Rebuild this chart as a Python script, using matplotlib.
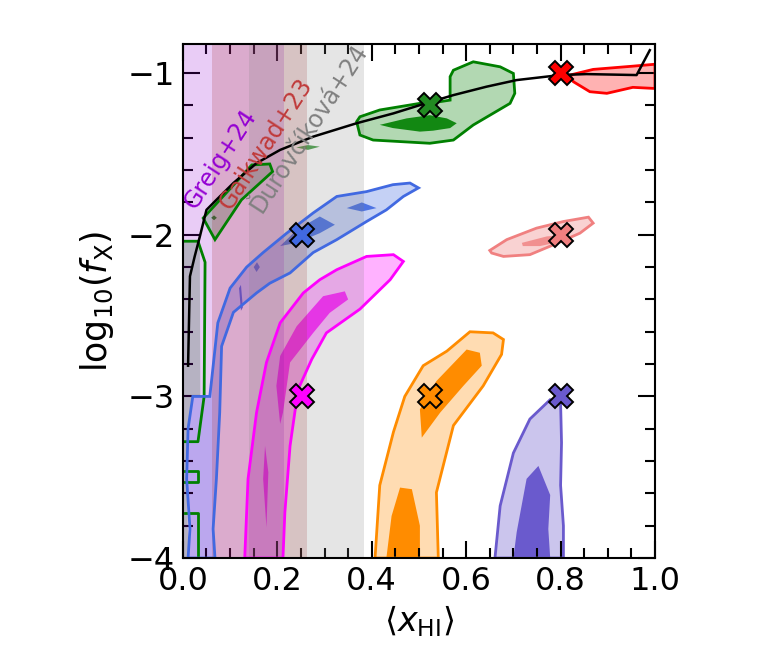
import matplotlib
matplotlib.use('Agg')
import matplotlib.pyplot as plt
from matplotlib.ticker import MultipleLocator

# ---- marker positions (<x_HI>, log10 fX) ----
mark_x = [0.523, 0.80, 0.252, 0.80, 0.252, 0.523, 0.80]
mark_y = [-1.2, -1.0, -2.0, -2.0, -3.0, -3.0, -3.0]
mark_c = ['forestgreen', 'red', 'royalblue', 'lightcoral', 'magenta', 'darkorange', 'slateblue']

# ---- black curve ----
curve_x = [0.011, 0.015, 0.025, 0.036, 0.05, 0.071, 0.107, 0.156, 0.206, 0.276, 0.368,
           0.446, 0.502, 0.573, 0.643, 0.707, 0.799, 0.855, 0.961, 0.989]
curve_y = [-2.81, -2.257, -2.134, -2.01, -1.846, -1.784, -1.68, -1.557, -1.475, -1.393, -1.31,
           -1.249, -1.198, -1.136, -1.084, -1.043, -1.012, -1.006, -1.012, -0.858]

# ---- observational bands ----
band_names = ['Greig+24', 'Gaikwad+23', 'Ďurovčíková+24']
band_lo = [0.0, 0.062, 0.14]
band_hi = [0.214, 0.263, 0.384]
band_c = ['darkviolet', 'brown', 'gray']
band_txt_c = ['darkviolet', '#c03a3a', 'gray']
band_txt_x = [0.08, 0.175, 0.268]
band_txt_y = [-1.53, -1.434, -1.34]

# ---- contours (outer 2-sigma / inner 1-sigma) ----
green_outer_x = [0.368, 0.375, 0.403, 0.523, 0.573, 0.615, 0.693, 0.703, 0.70, 0.672, 0.615,
                 0.573, 0.566, 0.566, 0.523, 0.502, 0.417, 0.375]
green_outer_y = [-1.30, -1.383, -1.414, -1.434, -1.414, -1.321, -1.187, -1.125, -1.002, -0.961,
                 -0.93, -0.982, -1.022, -1.167, -1.186, -1.187, -1.228, -1.27]
green_inner_x = [0.417, 0.474, 0.523, 0.559, 0.58, 0.566, 0.53, 0.502, 0.445]
green_inner_y = [-1.32, -1.28, -1.26, -1.28, -1.31, -1.34, -1.356, -1.362, -1.34]
green_patch_x = [0.043, 0.146, 0.184, 0.190, 0.124, 0.068]
green_patch_y = [-1.897, -1.568, -1.562, -1.609, -1.784, -2.03]
green_sliver_x = [0.24, 0.265, 0.29, 0.265]
green_sliver_y = [-1.46, -1.445, -1.455, -1.475]
green_dot_x = [0.066, 0.072, 0.066, 0.060]
green_dot_y = [-1.88, -1.895, -1.91, -1.895]
green_left_x = [0.0, 0.036, 0.036, 0.037, 0.02, 0.012, 0.008, 0.012, 0.0]
green_left_y = [-2.04, -2.04, -2.2, -3.0, -3.0, -3.2, -3.5, -4.0, -4.0]
green_edge_x = [0.0, 0.032, 0.047, 0.045, 0.032, 0.004]
green_edge_y = [-2.04, -2.04, -2.17, -3.0, -3.28, -3.28]
green_box1_x = [0.004, 0.032, 0.032, 0.004]
green_box1_y = [-3.46, -3.46, -3.53, -3.53]
green_box2_x = [0.004, 0.032, 0.032]
green_box2_y = [-3.72, -3.72, -4.0]

red_outer_x = [0.82, 0.869, 0.953, 1.0, 1.0, 0.953, 0.898, 0.862, 0.827]
red_outer_y = [-1.012, -0.977, -0.957, -0.945, -1.095, -1.088, -1.125, -1.115, -1.053]

pink_outer_x = [0.650, 0.686, 0.749, 0.806, 0.859, 0.869, 0.841, 0.785, 0.735, 0.679, 0.654]
pink_outer_y = [-2.097, -2.03, -1.959, -1.918, -1.891, -1.928, -1.99, -2.062, -2.123, -2.134, -2.113]
pink_inner_x = [0.718, 0.771, 0.813, 0.805, 0.756, 0.72]
pink_inner_y = [-2.05, -2.01, -2.0, -2.04, -2.07, -2.07]

blue_outer_x = [0.011, 0.015, 0.008, 0.011, 0.021, 0.057, 0.061, 0.074, 0.10, 0.135, 0.17,
                0.22, 0.276, 0.326, 0.389, 0.445, 0.481, 0.499, 0.467, 0.431, 0.389, 0.326,
                0.276, 0.227, 0.184, 0.156, 0.107, 0.082, 0.078, 0.071, 0.064, 0.068]
blue_outer_y = [-4.0, -3.82, -3.51, -3.2, -3.0, -3.0, -2.895, -2.545, -2.33, -2.2, -2.11,
                -1.99, -1.865, -1.763, -1.733, -1.69, -1.68, -1.71, -1.763, -1.846, -1.918, -2.03,
                -2.11, -2.236, -2.3, -2.36, -2.48, -2.69, -3.1, -3.51, -3.82, -4.0]
blue_inner1_x = [0.206, 0.241, 0.29, 0.322, 0.29, 0.241]
blue_inner1_y = [-2.07, -1.97, -1.887, -1.938, -1.99, -2.05]
blue_inner2_x = [0.347, 0.379, 0.41, 0.379]
blue_inner2_y = [-1.835, -1.80, -1.835, -1.856]
blue_inner3_x = [0.150, 0.157, 0.163, 0.156]
blue_inner3_y = [-2.2, -2.17, -2.2, -2.23]
blue_inner4_x = [0.119, 0.123, 0.127, 0.123]
blue_inner4_y = [-2.33, -2.31, -2.45, -2.47]

mag_outer_x = [0.131, 0.138, 0.156, 0.177, 0.206, 0.255, 0.29, 0.326, 0.389, 0.446, 0.467,
               0.439, 0.375, 0.304, 0.273, 0.244, 0.227, 0.216, 0.212]
mag_outer_y = [-4.0, -3.51, -3.1, -2.79, -2.545, -2.36, -2.278, -2.216, -2.134, -2.123, -2.165,
               -2.278, -2.46, -2.607, -2.77, -2.957, -3.306, -3.718, -4.0]
mag_inner1_x = [0.198, 0.206, 0.241, 0.297, 0.343, 0.35, 0.311, 0.276, 0.227, 0.212, 0.206]
mag_inner1_y = [-2.935, -2.75, -2.566, -2.38, -2.35, -2.40, -2.483, -2.607, -2.79, -3.1, -3.17]
mag_inner2_x = [0.174, 0.181, 0.177, 0.170]
mag_inner2_y = [-3.306, -3.47, -3.81, -3.51]

orange_outer_x = [0.407, 0.417, 0.446, 0.47, 0.509, 0.559, 0.608, 0.657, 0.679, 0.675, 0.636,
                  0.573, 0.537, 0.541]
orange_outer_y = [-4.0, -3.55, -3.22, -3.0, -2.81, -2.72, -2.60, -2.607, -2.648, -2.74, -2.935,
                  -3.18, -3.594, -4.0]
orange_inner1_x = [0.506, 0.502, 0.537, 0.601, 0.629, 0.633, 0.594, 0.545]
orange_inner1_y = [-3.255, -3.08, -2.905, -2.71, -2.73, -2.81, -2.935, -3.10]
orange_inner2_x = [0.431, 0.442, 0.46, 0.485, 0.502, 0.502]
orange_inner2_y = [-4.0, -3.74, -3.564, -3.574, -3.80, -4.0]

purple_outer_x = [0.661, 0.672, 0.70, 0.735, 0.778, 0.80, 0.802, 0.80, 0.806, 0.806]
purple_outer_y = [-4.0, -3.677, -3.35, -3.14, -3.02, -3.04, -3.286, -3.55, -3.80, -4.0]
purple_inner_x = [0.70, 0.707, 0.728, 0.753, 0.778, 0.774, 0.778]
purple_inner_y = [-4.0, -3.84, -3.51, -3.43, -3.61, -3.82, -4.0]

plt.rcParams['font.family'] = ['DejaVu Sans']
plt.rcParams['mathtext.fontset'] = 'dejavusans'

fig = plt.figure(figsize=(7.62, 6.62), dpi=100)
ax = fig.add_axes([0.240, 0.157, 0.6196, 0.7765])


def contour(xo, yo, col, a_out=0.3, inners=(), a_in=0.9):
    ax.fill(xo, yo, facecolor=col, alpha=a_out, edgecolor='none', zorder=1)
    ax.fill(xo, yo, facecolor='none', edgecolor=col, lw=2, zorder=2.5)
    for xi, yi in inners:
        ax.fill(xi, yi, facecolor=col, alpha=a_in, edgecolor='none', zorder=1.1)


contour(green_outer_x, green_outer_y, 'green', 0.3, [(green_inner_x, green_inner_y)])
contour(green_patch_x, green_patch_y, 'green', 0.25, [(green_dot_x, green_dot_y)])
ax.fill(green_sliver_x, green_sliver_y, facecolor='forestgreen', alpha=0.8, edgecolor='none', zorder=1)
ax.fill(green_left_x, green_left_y, facecolor='green', alpha=0.25, edgecolor='none', zorder=1)
ax.plot(green_edge_x, green_edge_y, color='green', lw=2, zorder=2.5)
ax.plot(green_box1_x, green_box1_y, color='green', lw=2, zorder=2.5)
ax.plot(green_box2_x, green_box2_y, color='green', lw=2, zorder=2.5)

contour(red_outer_x, red_outer_y, 'red', 0.3)
contour(pink_outer_x, pink_outer_y, 'lightcoral', 0.35, [(pink_inner_x, pink_inner_y)], 0.8)
contour(blue_outer_x, blue_outer_y, 'royalblue', 0.3,
        [(blue_inner1_x, blue_inner1_y), (blue_inner2_x, blue_inner2_y),
         (blue_inner3_x, blue_inner3_y), (blue_inner4_x, blue_inner4_y)])
contour(mag_outer_x, mag_outer_y, 'magenta', 0.3,
        [(mag_inner1_x, mag_inner1_y), (mag_inner2_x, mag_inner2_y)], 0.8)
contour(orange_outer_x, orange_outer_y, 'darkorange', 0.3,
        [(orange_inner1_x, orange_inner1_y), (orange_inner2_x, orange_inner2_y)], 1.0)
contour(purple_outer_x, purple_outer_y, 'slateblue', 0.35, [(purple_inner_x, purple_inner_y)], 1.0)

# observational constraints
for lo, hi, c in zip(band_lo, band_hi, band_c):
    ax.axvspan(lo, hi, color=c, alpha=0.2, lw=0, zorder=2)
for name, tx, ty, c in zip(band_names, band_txt_x, band_txt_y, band_txt_c):
    ax.text(tx, ty, name, color=c, fontsize=17, rotation=57, ha='center', va='center', zorder=4)

ax.plot(curve_x, curve_y, color='black', lw=1.8, zorder=3)

for mx, my, mc in zip(mark_x, mark_y, mark_c):
    ax.plot(mx, my, marker='X', ms=17, mfc=mc, mec='black', mew=1.4, zorder=5)

ax.set_xlim(0.0, 1.0)
ax.set_ylim(-4.0, -0.82)
ax.xaxis.set_major_locator(MultipleLocator(0.2))
ax.xaxis.set_minor_locator(MultipleLocator(0.05))
ax.yaxis.set_major_locator(MultipleLocator(1.0))
ax.yaxis.set_minor_locator(MultipleLocator(0.2))
ax.tick_params(which='both', direction='in', top=True, right=True, width=1.5)
ax.tick_params(which='major', length=12, labelsize=23, pad=6)
ax.tick_params(which='minor', length=7)
for sp in ax.spines.values():
    sp.set_linewidth(1.5)

ax.set_xlabel(r'$\langle x_{\rm HI}\rangle$', fontsize=24, labelpad=4)
ax.set_ylabel(r'$\mathrm{log}_{10}(f_{\rm X})$', fontsize=25, labelpad=8)

fig.savefig('out.png', dpi=100)
